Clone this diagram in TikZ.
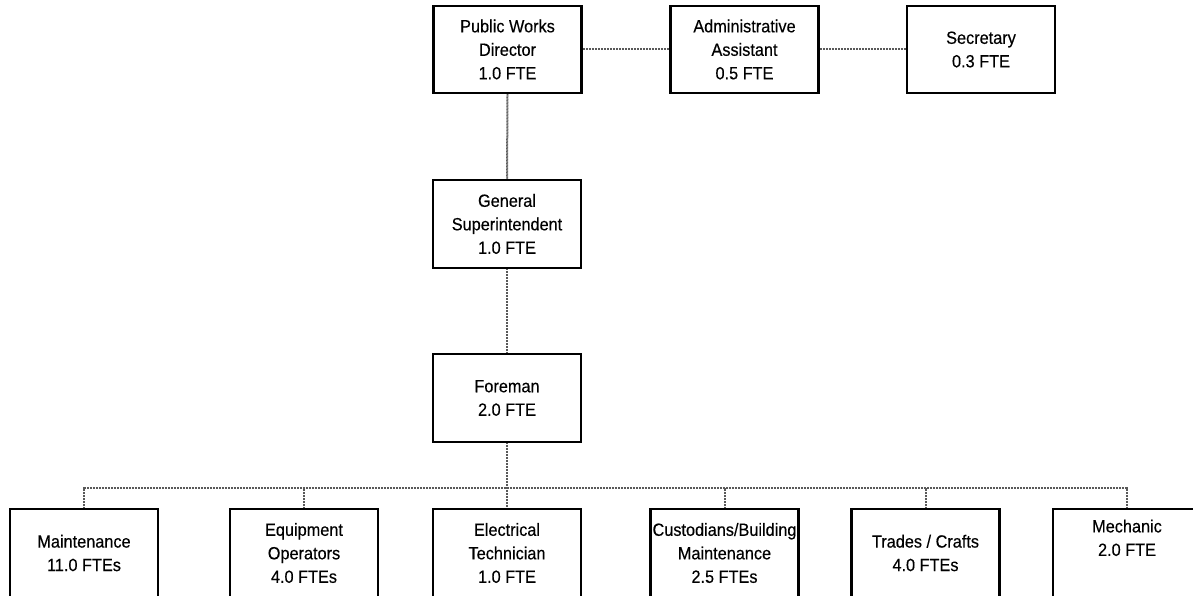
\documentclass[tikz,border=0pt]{standalone}
\usepackage{fontspec}
\setmainfont{Liberation Sans}[FakeStretch=0.92, FakeBold=0.3]
\begin{document}
\begin{tikzpicture}[x=1pt,y=-1pt,
  box/.style={draw=black, line width=2.5pt, fill=white, minimum width=148pt,
    minimum height=87pt, inner sep=0pt, align=center,
    font=\fontsize{17.7}{23.5}\selectfont},
  lowbox/.style={box, minimum height=88pt},
  link/.style={draw=black!65, line width=2pt, dash pattern=on 1pt off 0.5pt}]
\useasboundingbox (0,0) rectangle (1193,596);
\clip (0,0) rectangle (1193,596);

% management row
\node[box] (pwd) at (507.5,49.5) {Public Works\\Director\\1.0 FTE};
\node[box] (admin) at (744.5,49.5) {Administrative\\Assistant\\0.5 FTE};
\node[box] (sec) at (981,49.5) {Secretary\\0.3 FTE};

% supervision chain
\node[lowbox] (gs) at (507,224) {General\\Superintendent\\1.0 FTE};
\node[lowbox] (fore) at (507,398) {Foreman\\2.0 FTE};

% crews
\node[lowbox] (maint) at (84,553) {Maintenance\\11.0 FTEs};
\node[lowbox] (equip) at (304,553) {Equipment\\Operators\\4.0 FTEs};
\node[lowbox] (elec) at (507,553) {Electrical\\Technician\\1.0 FTE};
\node[lowbox] (cust) at (724.5,553) {Custodians/Building\\Maintenance\\2.5 FTEs};
\node[lowbox] (trades) at (925.5,553) {Trades / Crafts\\4.0 FTEs};
\node[lowbox] (mech) at (1127,553) {Mechanic\\2.0 FTE\\\strut};

% reporting lines
\coordinate (bus) at (507,488);
\draw[link] (pwd.east) -- (admin.west);
\draw[link] (admin.east) -- (sec.west);
\draw[link] (pwd.south) -- (gs.north);
\draw[link] (gs.south) -- (fore.north);
\draw[link] (fore.south) -- (elec.north);
\draw[link] (maint.north) -- (maint.north |- bus) -- (mech.north |- bus) -- (mech.north);
\draw[link] (equip.north) -- (equip.north |- bus);
\draw[link] (cust.north) -- (cust.north |- bus);
\draw[link] (trades.north) -- (trades.north |- bus);
\end{tikzpicture}
\end{document}
